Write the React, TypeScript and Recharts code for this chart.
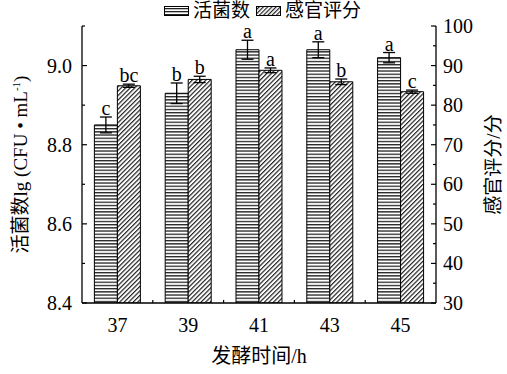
import React from 'react';
import { BarChart, Bar, XAxis, YAxis, ErrorBar, LabelList } from 'recharts';

const categories = ['37', '39', '41', '43', '45'];
const viableCount = [8.85, 8.93, 9.04, 9.04, 9.02];
const viableErr = [0.02, 0.026, 0.024, 0.02, 0.013];
const viableLetters = ['c', 'b', 'a', 'a', 'a'];
const sensoryScore = [84.9, 86.5, 88.8, 85.9, 83.4];
const sensoryErr = [0.4, 0.8, 0.6, 0.7, 0.4];
const sensoryLetters = ['bc', 'b', 'a', 'b', 'c'];
const leftTicks = [8.4, 8.5, 8.6, 8.7, 8.8, 8.9, 9.0, 9.1];
const rightTicks = [30, 35, 40, 45, 50, 55, 60, 65, 70, 75, 80, 85, 90, 95, 100];

const data = categories.map((c, i) => ({
  name: c,
  idx: i,
  viable: viableCount[i],
  viableErr: viableErr[i],
  sensory: sensoryScore[i],
  sensoryErr: sensoryErr[i],
}));

const FONT = "Liberation Serif, Noto Sans CJK SC, serif";
const FS = 20;
const txt = { fontFamily: FONT };

const LeftTick = (props: any) => {
  const { x, y, payload } = props;
  const v = payload.value;
  const major = Math.round(v * 10) % 2 === 0;
  const ax = x + 10;
  return (
    <g>
      <line x1={ax} x2={ax + (major ? 5 : 3)} y1={y} y2={y} stroke="#000" strokeWidth={1.2} />
      {major && (
        <text x={x} y={y} dy="0.35em" textAnchor="end" fontSize={FS} style={txt} fill="#000">
          {v.toFixed(1)}
        </text>
      )}
    </g>
  );
};

const RightTick = (props: any) => {
  const { x, y, payload } = props;
  const v = payload.value;
  const major = v % 10 === 0;
  const ax = x - 7;
  return (
    <g>
      <line x1={ax} x2={ax - (major ? 5 : 3)} y1={y} y2={y} stroke="#000" strokeWidth={1.2} />
      {major && (
        <text x={x} y={y} dy="0.35em" textAnchor="start" fontSize={FS} style={txt} fill="#000">
          {v}
        </text>
      )}
    </g>
  );
};

const BottomTick = (props: any) => {
  const { x, y, payload } = props;
  const off = payload.offset || 0;
  return (
    <g>
      {payload.index > 0 && (
        <line x1={x - off} x2={x - off} y1={y} y2={y - 3} stroke="#000" strokeWidth={1.2} />
      )}
      <text x={x} y={y + 29} textAnchor="middle" fontSize={FS} style={txt} fill="#000">
        {payload.value}
      </text>
    </g>
  );
};

const letterContent = (vals: number[], errs: number[], letters: string[], base: number) => (props: any) => {
  const vb = props.viewBox || props;
  const { x, y, width, height } = vb;
  const i = props.value;
  const errPx = (errs[i] * height) / (vals[i] - base);
  return (
    <text x={x + width / 2} y={y - errPx - 2} textAnchor="middle" fontSize={FS} style={txt} fill="#000">
      {letters[i]}
    </text>
  );
};

const LeftTitle = (props: any) => {
  const { x, y, height } = props.viewBox;
  const cx = x + 20;
  const cy = y + height / 2;
  return (
    <text x={cx} y={cy} transform={`rotate(-90 ${cx} ${cy})`} textAnchor="middle" dy="0.35em" fontSize={19} style={txt} fill="#000">
      活菌数lg (CFU • mL<tspan dy={-7} fontSize={11}>-1</tspan><tspan dy={7}>)</tspan>
    </text>
  );
};

const RightTitle = (props: any) => {
  const { x, y, height } = props.viewBox;
  const cx = x + 57;
  const cy = y + height / 2;
  return (
    <text x={cx} y={cy} transform={`rotate(-90 ${cx} ${cy})`} textAnchor="middle" dy="0.35em" fontSize={19} style={txt} fill="#000">
      感官评分/分
    </text>
  );
};

const BottomTitle = (props: any) => {
  const { x, y, width } = props.viewBox;
  return (
    <text x={x + width / 2} y={y + 60} textAnchor="middle" fontSize={20} style={txt} fill="#000">
      发酵时间/h
    </text>
  );
};

function LegendBox() {
  const item = (fill: string, label: string) => (
    <span style={{ display: 'inline-flex', alignItems: 'center', marginRight: 6 }}>
      <svg width={26} height={12} style={{ marginRight: 3 }}>
        <rect x={0.5} y={1.5} width={24} height={9} fill={fill} stroke="#000" strokeWidth={1} />
      </svg>
      <span>{label}</span>
    </span>
  );
  return (
    <div
      style={{
        position: 'absolute',
        top: 1,
        left: 0,
        width: 507,
        display: 'flex',
        justifyContent: 'center',
        fontFamily: FONT,
        fontSize: 19,
        lineHeight: '20px',
        paddingLeft: 24,
        boxSizing: 'border-box',
      }}
    >
      {item('url(#lgH)', '活菌数')}
      {item('url(#lgD)', '感官评分')}
    </div>
  );
}

export default function App() {
  return (
    <div style={{ position: 'fixed', left: 0, top: 0, width: 507, height: 374, background: '#fff' }}>
      <svg width={0} height={0} style={{ position: 'absolute' }}>
        <defs>
          <pattern id="lgH" width="4" height="3" patternUnits="userSpaceOnUse">
            <rect width="4" height="3" fill="#fff" />
            <rect width="4" height="1.3" fill="#222" />
          </pattern>
          <pattern id="lgD" width="3" height="3" patternUnits="userSpaceOnUse" patternTransform="rotate(45)">
            <rect width="3" height="3" fill="#fff" />
            <rect width="1.2" height="3" fill="#222" />
          </pattern>
        </defs>
      </svg>
      <BarChart
        width={507}
        height={374}
        data={data}
        margin={{ top: 26, right: 0, bottom: 41, left: 0 }}
        barCategoryGap="17.5%"
        barGap={0}
      >
        <defs>
          <pattern id="hStripe" width="4" height="3.2" patternUnits="userSpaceOnUse">
            <rect width="4" height="3.2" fill="#fff" />
            <rect width="4" height="1.3" fill="#222" />
          </pattern>
          <pattern id="dStripe" width="3.2" height="3.2" patternUnits="userSpaceOnUse" patternTransform="rotate(45)">
            <rect width="3.2" height="3.2" fill="#fff" />
            <rect width="1.2" height="3.2" fill="#222" />
          </pattern>
        </defs>
        <XAxis
          dataKey="name"
          height={30}
          axisLine={{ stroke: '#000', strokeWidth: 1.3 }}
          tickLine={false}
          tickSize={0}
          tickMargin={0}
          interval={0}
          tick={<BottomTick />}
          label={{ content: <BottomTitle /> }}
        />
        <YAxis
          yAxisId="left"
          orientation="left"
          width={82}
          type="number"
          domain={[8.4, 9.1]}
          ticks={leftTicks}
          interval={0}
          allowDataOverflow
          axisLine={{ stroke: '#000', strokeWidth: 1.3 }}
          tickLine={false}
          tickSize={0}
          tickMargin={10}
          tick={<LeftTick />}
          label={{ content: <LeftTitle /> }}
        />
        <YAxis
          yAxisId="right"
          orientation="right"
          width={71}
          type="number"
          domain={[30, 100]}
          ticks={rightTicks}
          interval={0}
          allowDataOverflow
          axisLine={{ stroke: '#000', strokeWidth: 1.3 }}
          tickLine={false}
          tickSize={0}
          tickMargin={7}
          tick={<RightTick />}
          label={{ content: <RightTitle /> }}
        />
        <Bar yAxisId="left" dataKey="viable" fill="url(#hStripe)" stroke="#000" strokeWidth={1} isAnimationActive={false}>
          <ErrorBar dataKey="viableErr" width={6} stroke="#000" strokeWidth={1.3} isAnimationActive={false} />
          <LabelList dataKey="idx" content={letterContent(viableCount, viableErr, viableLetters, 8.4)} />
        </Bar>
        <Bar yAxisId="right" dataKey="sensory" fill="url(#dStripe)" stroke="#000" strokeWidth={1} isAnimationActive={false}>
          <ErrorBar dataKey="sensoryErr" width={6} stroke="#000" strokeWidth={1.3} isAnimationActive={false} />
          <LabelList dataKey="idx" content={letterContent(sensoryScore, sensoryErr, sensoryLetters, 30)} />
        </Bar>
      </BarChart>
      <LegendBox />
    </div>
  );
}
